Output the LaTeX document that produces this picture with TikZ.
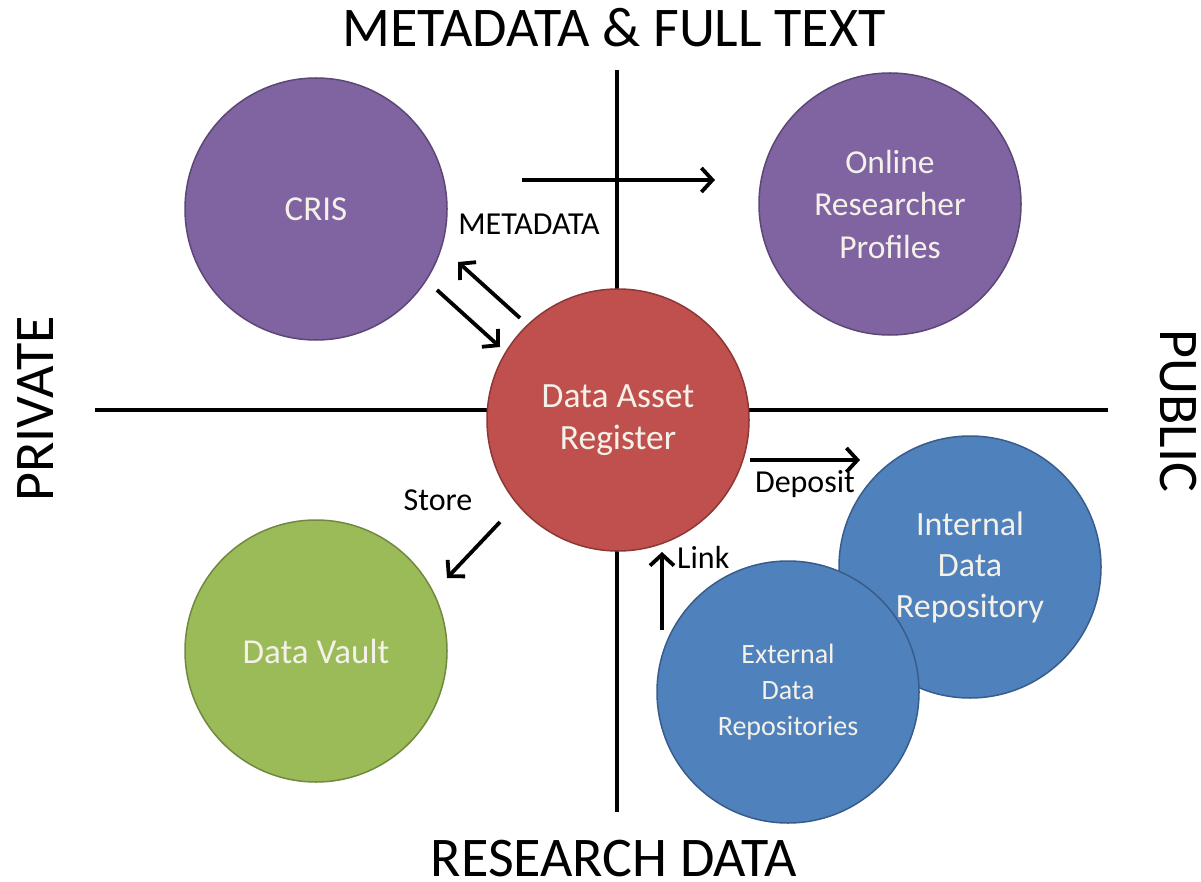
\documentclass[tikz,border=0pt]{standalone}
\usepackage{fontspec}
\setmainfont{Carlito}
\usetikzlibrary{arrows.meta}
\definecolor{purp}{HTML}{8064A2}
\definecolor{purpd}{HTML}{5C4776}
\definecolor{redc}{HTML}{C0504D}
\definecolor{redd}{HTML}{8C3836}
\definecolor{grn}{HTML}{9BBB59}
\definecolor{grnd}{HTML}{71893F}
\definecolor{blu}{HTML}{4F81BD}
\definecolor{blud}{HTML}{385D8A}
\definecolor{softwhite}{HTML}{F4F1E8}
\begin{document}
\begin{tikzpicture}[x=1pt,y=-1pt,
  blob/.style={circle, minimum size=262pt, inner sep=0pt, line width=1.5pt, text=softwhite, align=center},
  axisline/.style={line width=4.5pt, black},
  flow/.style={line width=3.8pt, -{Straight Barb[length=11pt,width=24pt]}},
  lbl/.style={anchor=base, inner sep=0pt, font=\fontsize{32}{38}\selectfont},
  bigtitle/.style={font=\fontsize{56}{60}\selectfont, inner sep=0pt}]
\useasboundingbox[fill=white] (0,0) rectangle (1201,882);

% quadrant axes
\coordinate (axL) at (95,410);
\coordinate (axR) at (1108,410);
\coordinate (axT) at (617,70);
\coordinate (axB) at (617,812);
\draw[axisline] (axL) -- (axR);
\draw[axisline] (axT) -- (axB);

% circles
\node[blob, fill=purp, draw=purpd, font=\fontsize{35}{42}\selectfont] (cris) at (316,209) {CRIS};
\node[blob, fill=purp, draw=purpd, font=\fontsize{33.5}{42.5}\selectfont] (orp) at (890,204) {Online\\Researcher\\Profiles};
\node[blob, fill=redc, draw=redd, font=\fontsize{35.5}{42}\selectfont] (dar) at (618,420) {Data Asset\\Register};
\node[blob, fill=grn, draw=grnd, font=\fontsize{35}{42}\selectfont] (vault) at (316,651) {Data Vault};
\node[blob, fill=blu, draw=blud, font=\fontsize{34}{41}\selectfont] (idr) at (970,567) {Internal\\Data\\Repository};
\node[blob, fill=blu, draw=blud, font=\fontsize{28}{36}\selectfont] (edr) at (788,692) {External\\Data\\Repositories};

% arrow end points
\coordinate (topS) at (522,180);
\coordinate (topE) at (715,180);
\coordinate (upS) at (520,318);
\coordinate (upE) at (458,262);
\coordinate (dnS) at (437,290);
\coordinate (dnE) at (500,347);
\coordinate (stS) at (500,522);
\coordinate (stE) at (447,578);
\coordinate (depS) at (750,460);
\coordinate (depE) at (860,460);
\coordinate (lkS) at (662,630);
\coordinate (lkE) at (662,552);

\draw[flow] (topS) -- (topE);
\draw[flow] (upS) -- (upE);
\draw[flow] (dnS) -- (dnE);
\draw[flow] (stS) -- (stE);
\draw[flow] (depS) -- (depE);
\draw[flow] (lkS) -- (lkE);

% labels
\node[lbl] (lmeta) at (529,235) {METADATA};
\node[lbl] (lstore) at (438,510) {Store};
\node[lbl] (ldep) at (805,492) {Deposit};
\node[lbl, anchor=base west] (llink) at (677,568) {Link};

% titles
\node[bigtitle, anchor=base] (ttop) at (614,47) {METADATA \& FULL TEXT};
\node[bigtitle, anchor=base] (tbot) at (614,876) {RESEARCH DATA};
\node[bigtitle, rotate=90] (tleft) at (36,409) {PRIVATE};
\node[bigtitle, rotate=-90] (tright) at (1178,411) {PUBLIC};
\end{tikzpicture}
\end{document}
